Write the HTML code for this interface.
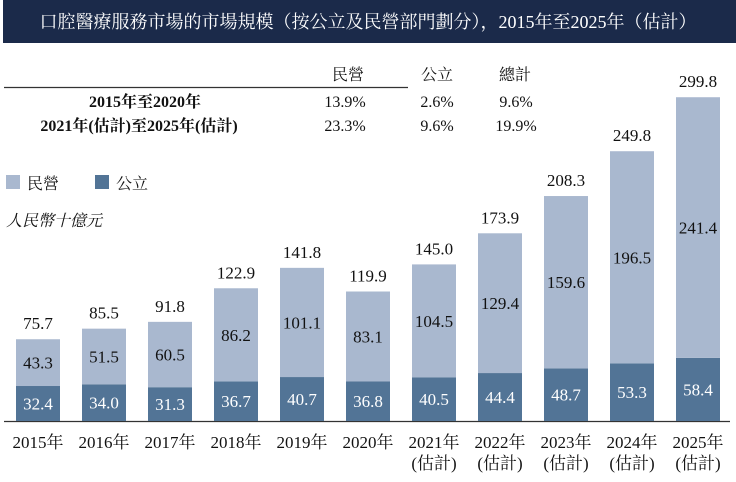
<!DOCTYPE html>
<html><head><meta charset="utf-8"><style>
body{margin:0;width:736px;height:477px;background:#fff;overflow:hidden;font-family:"Liberation Serif","Noto Serif CJK SC",serif;}
</style></head><body>
<svg width="736" height="477" xmlns="http://www.w3.org/2000/svg" font-family="Liberation Serif, Noto Serif CJK SC, serif">
<rect x="3" y="0" width="733" height="43" fill="#1b2a4a"/>
<text x="368" y="28" fill="#fff" font-size="18" text-anchor="middle">口腔醫療服務市場的市場規模（按公立及民營部門劃分），2015年至2025年（估計）</text>
<g font-size="16" fill="#111" text-anchor="middle">
<text x="348" y="80">民營</text><text x="437" y="80">公立</text><text x="515" y="80">總計</text>
<text x="145" y="107" font-weight="bold">2015年至2020年</text>
<text x="139" y="131" font-weight="bold">2021年(估計)至2025年(估計)</text>
<text x="345" y="107">13.9%</text><text x="437" y="107">2.6%</text><text x="516" y="107">9.6%</text>
<text x="345" y="131">23.3%</text><text x="437" y="131">9.6%</text><text x="516" y="131">19.9%</text>
</g>
<line x1="4" y1="87.5" x2="408" y2="87.5" stroke="#333" stroke-width="1.2"/>
<rect x="6" y="175" width="14" height="14" fill="#a9b8cf"/><text x="27" y="189" font-size="16" fill="#111">民營</text>
<rect x="95" y="175" width="14" height="14" fill="#527496"/><text x="116" y="189" font-size="16" fill="#111">公立</text>
<text x="6" y="226" font-size="16" font-style="italic" fill="#111">人民幣十億元</text>
<line x1="4" y1="421.5" x2="730" y2="421.5" stroke="#333" stroke-width="1.2"/>
<g id="bars" font-size="17" text-anchor="middle"></g>
</svg>
<script>
var d=[[32.4,43.3,75.7],[34.0,51.5,85.5],[31.3,60.5,91.8],[36.7,86.2,122.9],[40.7,101.1,141.8],[36.8,83.1,119.9],[40.5,104.5,145.0],[44.4,129.4,173.9],[48.7,159.6,208.3],[53.3,196.5,249.8],[58.4,241.4,299.8]];
var g=document.getElementById('bars'),s='',k=1.08,b=421;
d.forEach(function(v,i){var x=16+i*66,c=x+22;var h1=v[0]*k,h2=v[1]*k;
s+='<rect x="'+x+'" y="'+(b-h1)+'" width="44" height="'+h1+'" fill="#527496"/>';
s+='<rect x="'+x+'" y="'+(b-h1-h2)+'" width="44" height="'+h2+'" fill="#a9b8cf"/>';
s+='<text x="'+c+'" y="'+(b-h1/2+6)+'" fill="#fff">'+v[0].toFixed(1)+'</text>';
s+='<text x="'+c+'" y="'+(b-h1-h2/2+6)+'" fill="#111">'+v[1].toFixed(1)+'</text>';
s+='<text x="'+c+'" y="'+(b-h1-h2-10)+'" fill="#111">'+v[2].toFixed(1)+'</text>';
s+='<text x="'+c+'" y="448" fill="#111">'+(2015+i)+'年</text>';
if(i>=6)s+='<text x="'+c+'" y="469" fill="#111">(估計)</text>';});
g.innerHTML=s;
</script>
</body></html>
